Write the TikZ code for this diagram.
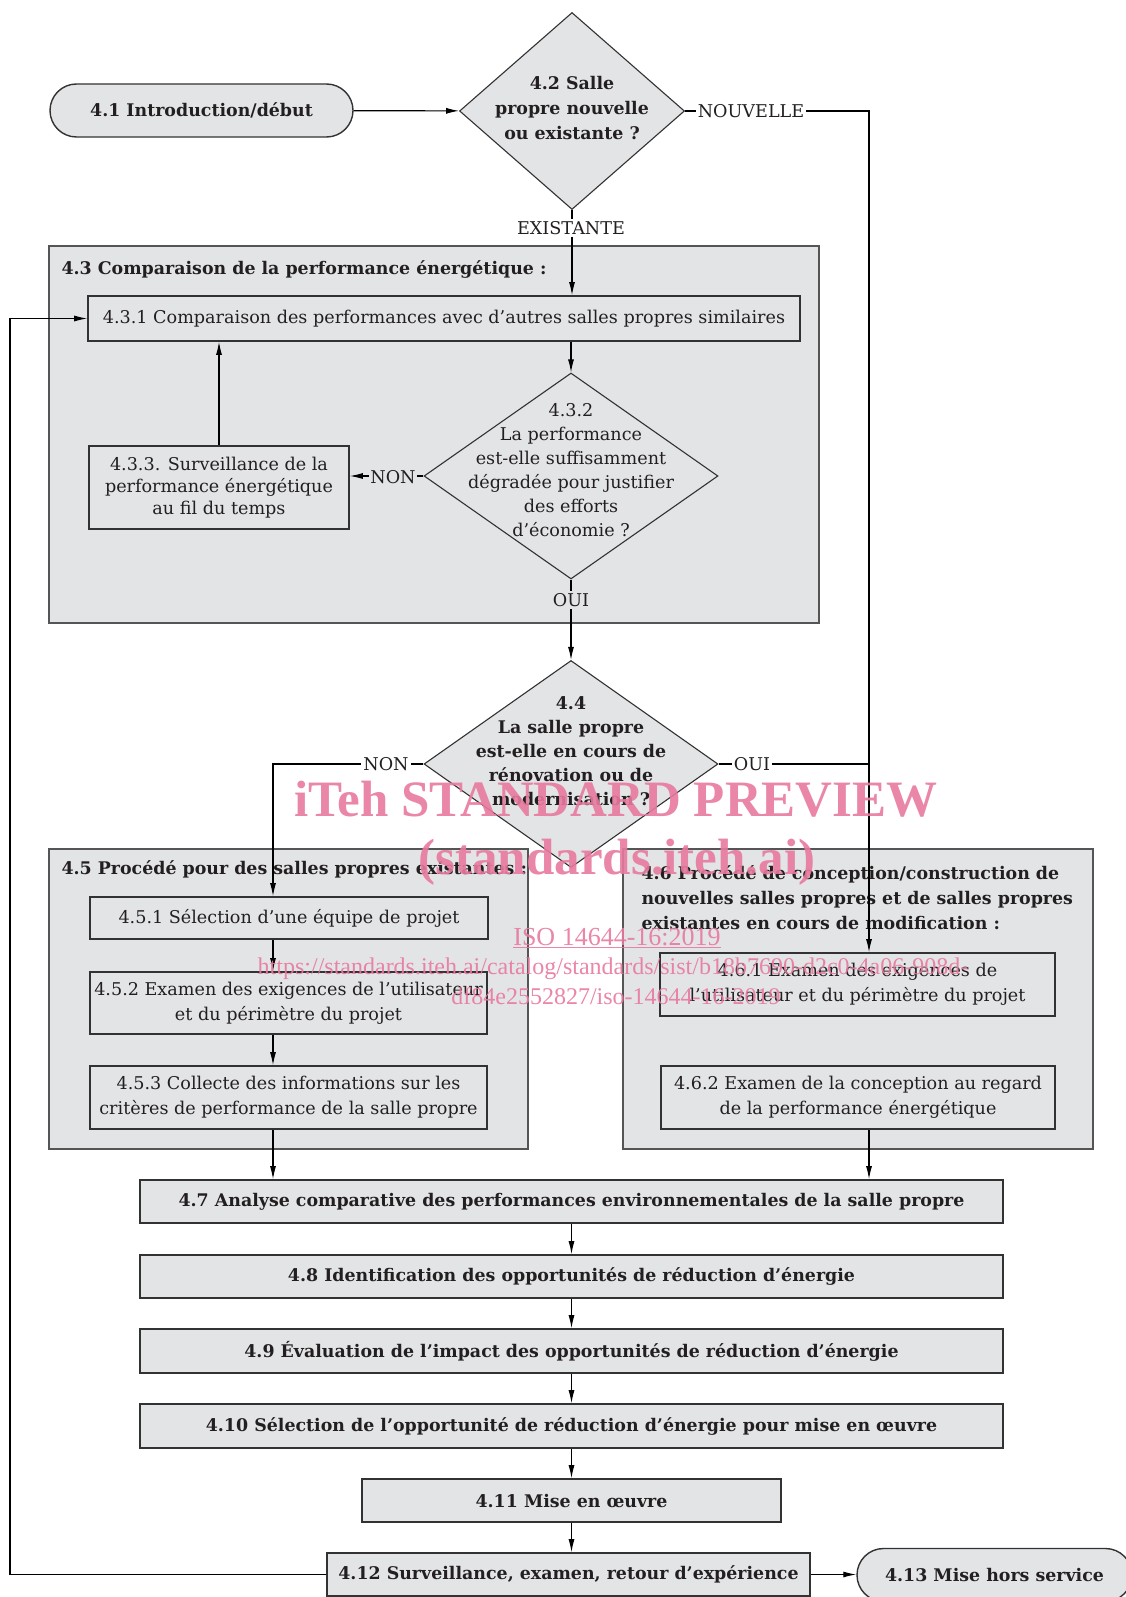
\documentclass[tikz,border=0pt]{standalone}
\usepackage{fontspec}
\setmainfont{DejaVu Serif}
\newfontfamily\wmfont{Liberation Serif}
\usetikzlibrary{positioning,shapes.geometric,shapes.misc,arrows.meta}
\definecolor{boxfill}{RGB}{227,228,230}
\definecolor{edgec}{RGB}{50,50,50}
\definecolor{grpc}{RGB}{85,85,85}
\definecolor{inkc}{RGB}{35,31,32}
\definecolor{wmpink}{RGB}{232,121,158}
\newcommand\ftxt{\fontsize{17.6}{24}\selectfont}
\newcommand\fgras{\fontsize{17.4}{25}\selectfont\bfseries}

\begin{document}
\begin{tikzpicture}[x=1pt, y=-1pt, >={Latex[length=13pt,width=6pt]}, line width=1.1pt,
                    etape/.style={draw=edgec, fill=boxfill, line width=1.6pt, inner sep=0pt, align=center, font=\ftxt, text=inkc},
                    etapeg/.style={etape, font=\fgras},
                    groupe/.style={draw=grpc, fill=boxfill, line width=1.4pt, inner sep=0pt},
                    titre/.style={anchor=west, align=left, inner sep=0pt, font=\fgras, text=inkc},
                    choix/.style={diamond, draw=edgec, fill=boxfill, line width=1.1pt, inner sep=0pt},
                    choixtxt/.style={align=center, inner sep=0pt, font=\ftxt, text=inkc},
                    borne/.style={rounded rectangle, draw=edgec, fill=boxfill, line width=1.4pt, inner sep=0pt, font=\fgras, text=inkc},
                    etiq/.style={inner sep=2pt, font=\ftxt, text=inkc},
                    filigrane/.style={anchor=base, inner sep=0pt, text=wmpink, opacity=0.9}]
\clip (0,0) rectangle (1126,1597);
\fill[white] (0,0) rectangle (1126,1597);

\node[groupe, minimum width=770, minimum height=377] (43) at (434,434.5) {};
\node[groupe, minimum width=479, minimum height=300] (45) at (288.5,999) {};
\node[groupe, minimum width=470, minimum height=300] (46) at (858,999) {};

\node[titre] (43t) at (61,269) {4.3 Comparaison de la performance énergétique :};
\node[titre] (45t) at (61,869) {4.5 Procédé pour des salles propres existantes :};
\node[titre] (46t) at (641,898) {4.6 Procédé de conception/construction de\\nouvelles salles propres et de salles propres\\existantes en cours de modification :};

\node[borne, minimum width=303, minimum height=53] (41) at (201.5,110.5) {4.1 Introduction/début};
\node[choix, minimum width=225, minimum height=197] (42) at (572,111) {};
\node[choixtxt, font=\fgras] (42t) at (572,108.5) {4.2 Salle\\propre nouvelle\\ou existante ?};

\node[etape, minimum width=712, minimum height=45] (431) at (444,318.5) {4.3.1 Comparaison des performances avec d’autres salles propres similaires};
\node[choix, minimum width=294, minimum height=206] (432) at (571,476) {};
\node[choixtxt] (432t) at (571,470) {4.3.2\\La performance\\est-elle suffisamment\\dégradée pour justifier\\des efforts\\d’économie ?};
\node[etape, minimum width=260, minimum height=83, font=\fontsize{17.6}{22}\selectfont] (433) at (219,487.5) {4.3.3. Surveillance de la\\performance énergétique\\au fil du temps};

\node[choix, minimum width=294, minimum height=207] (44) at (571,764) {};
\node[choixtxt, font=\fontsize{17.4}{24}\selectfont\bfseries] (44t) at (571,751.5) {4.4\\La salle propre\\est-elle en cours de\\rénovation ou de\\modernisation ?};

\node[etape, minimum width=398, minimum height=42] (451) at (289,918) {4.5.1 Sélection d’une équipe de projet};
\node[etape, minimum width=397, minimum height=62, font=\fontsize{17.6}{25}\selectfont] (452) at (288.5,1003) {4.5.2 Examen des exigences de l’utilisateur\\et du périmètre du projet};
\node[etape, minimum width=397, minimum height=63, font=\fontsize{17.6}{25}\selectfont] (453) at (288.5,1097.5) {4.5.3 Collecte des informations sur les\\critères de performance de la salle propre};

\node[etape, minimum width=395, minimum height=63, font=\fontsize{17.6}{25}\selectfont] (461) at (857.5,984.5) {4.6.1 Examen des exigences de\\l’utilisateur et du périmètre du projet};
\node[etape, minimum width=394, minimum height=63, font=\fontsize{17.6}{25}\selectfont] (462) at (858,1097.5) {4.6.2 Examen de la conception au regard\\de la performance énergétique};

\node[etapeg, minimum width=863, minimum height=43] (47) at (571.5,1201.5) {4.7 Analyse comparative des performances environnementales de la salle propre};
\node[etapeg, minimum width=863, minimum height=43] (48) at (571.5,1276.5) {4.8 Identification des opportunités de réduction d’énergie};
\node[etapeg, minimum width=863, minimum height=44] (49) at (571.5,1351) {4.9 Évaluation de l’impact des opportunités de réduction d’énergie};
\node[etapeg, minimum width=863, minimum height=44] (410) at (571.5,1426) {4.10 Sélection de l’opportunité de réduction d’énergie pour mise en œuvre};
\node[etapeg, minimum width=419, minimum height=43] (411) at (571.5,1500.5) {4.11 Mise en œuvre};
\node[etapeg, minimum width=483, minimum height=43] (412) at (568.5,1574.5) {4.12 Surveillance, examen, retour d’expérience};
\node[borne, minimum width=275, minimum height=53] (413) at (994.5,1575) {4.13 Mise hors service};

\coordinate (c1) at (869,111);
\coordinate (c2) at (273,764);
\coordinate (c4) at (10,1574.5);

\draw[->] (41) -- (42);
\draw[->] (42.east) -- (c1) -- (c1 |- 461.north);
\draw[->] (42.south) -- (42.south |- 431.north);
\draw[->] (431.south -| 432.north) -- (432.north);
\draw[->] (432.west) -- (432.west -| 433.east);
\draw[->] (433.north) -- (433.north |- 431.south);
\draw[->] (432.south) -- (44.north);
\draw[->] (44.west) -- (c2) -- (c2 |- 451.north);
\draw (44.east) -- (44.east -| c1);
\draw[->] (451.south -| c2) -- (452.north -| c2);
\draw[->] (452.south -| c2) -- (453.north -| c2);
\draw[->] (453.south -| c2) -- (47.north -| c2);
\draw[->] (462.south -| c1) -- (47.north -| c1);
\path[->] (47) edge (48)
          (48) edge (49)
          (49) edge (410)
          (410) edge (411);
\draw[->] (411.south) -- (411.south |- 412.north);
\draw[->] (412.east) -- (412.east -| 413.west);
\draw[->] (412.west) -- (c4) |- (431.west);

\node[etiq, fill=white] (nouv) at (751,111) {NOUVELLE};
\node[etiq, fill=white] (exist) at (571,228) {EXISTANTE};
\node[etiq, fill=boxfill, inner sep=1pt] (non1) at (393,477) {NON};
\node[etiq, fill=boxfill] (oui1) at (571,600) {OUI};
\node[etiq, fill=white] (non2) at (386,764) {NON};
\node[etiq, fill=white] (oui2) at (752,764) {OUI};

\node[filigrane, font=\wmfont\fontsize{51}{51}\selectfont\bfseries] (wm1) at (616,816) {iTeh STANDARD PREVIEW};
\node[filigrane, font=\wmfont\fontsize{51}{51}\selectfont\bfseries] (wm2) at (617,874) {(standards.iteh.ai)};
\node[filigrane, font=\wmfont\fontsize{26}{26}\selectfont] (wm3) at (617,945) {\underline{ISO 14644-16:2019}};
\node[filigrane, font=\wmfont\fontsize{24}{24}\selectfont] (wm4) at (613,974) {https://standards.iteh.ai/catalog/standards/sist/b18b7690-d2c0-4a06-908d-};
\node[filigrane, font=\wmfont\fontsize{24}{24}\selectfont] (wm5) at (616,1004) {df84e2552827/iso-14644-16-2019};
\end{tikzpicture}
\end{document}
